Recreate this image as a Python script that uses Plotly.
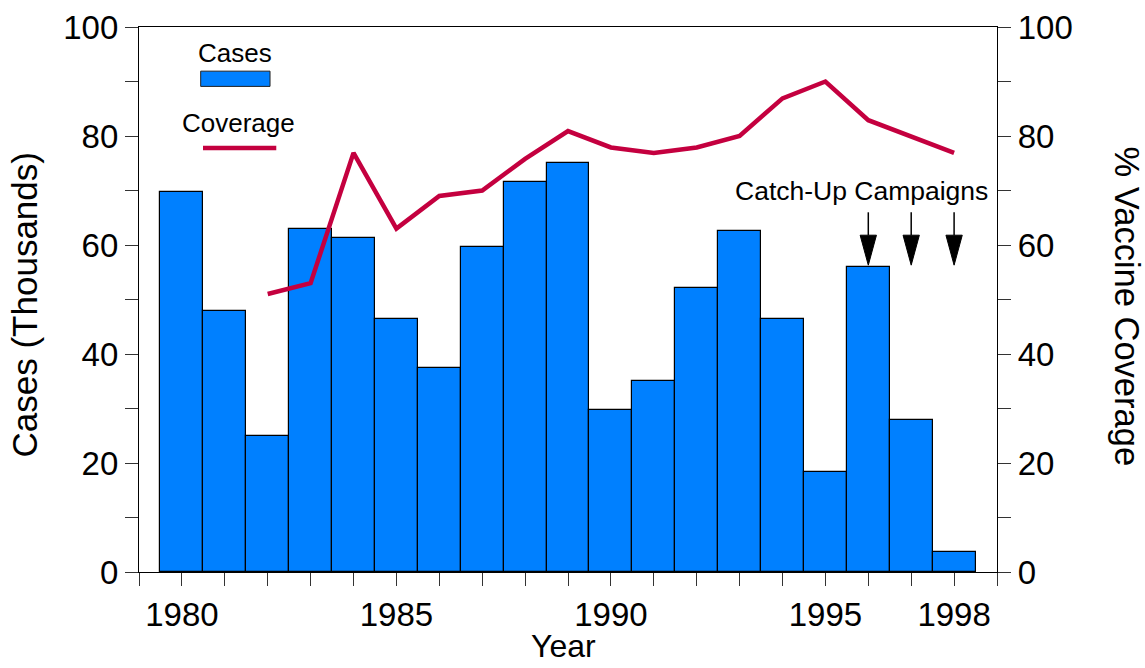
import plotly.graph_objects as go

# ---- data ----
years = list(range(1980, 1999))
cases_thousands = [69.8, 47.8, 24.9, 63.0, 61.3, 46.5, 37.4, 59.7, 71.6, 75.1,
                   29.7, 35.1, 52.2, 62.6, 46.4, 18.3, 56.0, 27.9, 3.7]
coverage_years = list(range(1982, 1999))
coverage_pct = [51.0, 53.0, 76.9, 63.0, 69.0, 70.0, 75.8, 80.9, 77.9, 76.9,
                77.9, 80.0, 86.9, 90.0, 82.9, 80.0, 76.9]
tick_years = list(range(1979, 2000))
labelled_years = [1980, 1985, 1990, 1995, 1998]
campaign_years = [1996, 1997, 1998]
arrow_tip, arrow_base, arrow_tail = 56.3, 61.8, 66.0

FONT = "Liberation Sans, Arial, sans-serif"
BAR_COLOR = "#0080FF"
LINE_COLOR = "#C4003F"

fig = go.Figure()
fig.add_trace(go.Bar(
    x=years, y=cases_thousands, width=1.0,
    marker=dict(color=BAR_COLOR, line=dict(color="black", width=1.2)),
    name="Cases", showlegend=False,
))
fig.add_trace(go.Scatter(
    x=coverage_years, y=coverage_pct, mode="lines", yaxis="y2",
    line=dict(color=LINE_COLOR, width=4.5),
    name="Coverage", showlegend=False,
))

ticktext = [str(y) if y in labelled_years else "" for y in tick_years]

axis_common = dict(
    showline=True, linecolor="black", linewidth=1.3,
    ticks="outside", ticklen=13, tickwidth=1.3, tickcolor="#333",
    tickfont=dict(family=FONT, size=33, color="black"),
    showgrid=False, zeroline=False, automargin=False,
)
minor_ticks = dict(tickvals=[10, 30, 50, 70, 90], ticks="outside", ticklen=13,
                   tickcolor="#333", tickwidth=1.3)

fig.update_layout(
    width=1145, height=668,
    margin=dict(l=139, r=148, t=27, b=96, autoexpand=False),
    paper_bgcolor="white", plot_bgcolor="white",
    bargap=0,
    xaxis=dict(
        range=[1979, 1999], tickvals=tick_years, ticktext=ticktext,
        mirror=True, **axis_common,
    ),
    yaxis=dict(
        range=[0, 100], tickvals=[0, 20, 40, 60, 80, 100], minor=minor_ticks,
        **axis_common,
    ),
    yaxis2=dict(
        range=[0, 100], tickvals=[0, 20, 40, 60, 80, 100], overlaying="y", side="right",
        minor=minor_ticks, **axis_common,
    ),
    showlegend=False,
)

# axis titles
fig.add_annotation(
    text="Year", xref="paper", yref="paper", x=0.4948, y=-0.1358,
    xanchor="center", yanchor="middle", showarrow=False,
    font=dict(family=FONT, size=32, color="black"),
)
fig.add_annotation(
    text="Cases (Thousands)", textangle=-90, xref="paper", yref="paper",
    x=-0.1329, y=0.4908, xanchor="center", yanchor="middle", showarrow=False,
    font=dict(family=FONT, size=35, color="black"),
)
fig.add_annotation(
    text="% Vaccine Coverage", textangle=90, xref="paper", yref="paper",
    x=1.1515, y=0.4872, xanchor="center", yanchor="middle", showarrow=False,
    font=dict(family=FONT, size=34.5, color="black"),
)

# custom legend
fig.add_annotation(text="Cases", xref="paper", yref="paper", x=0.1119, y=0.952,
                   xanchor="center", yanchor="middle",
                   showarrow=False, font=dict(family=FONT, size=26, color="black"))
fig.add_shape(type="rect", xref="paper", yref="paper", x0=0.0719, x1=0.1527, y0=0.891, y1=0.919,
              fillcolor=BAR_COLOR, line=dict(color="#222", width=1))
fig.add_annotation(text="Coverage", xref="paper", yref="paper", x=0.1154, y=0.824,
                   xanchor="center", yanchor="middle",
                   showarrow=False, font=dict(family=FONT, size=26, color="black"))
fig.add_shape(type="line", xref="paper", yref="paper", x0=0.0746, x1=0.160, y0=0.778, y1=0.778,
              line=dict(color=LINE_COLOR, width=4.5))

# catch-up campaigns annotation with arrows
fig.add_annotation(text="Catch-Up Campaigns", x=1995.85, y=70, xref="x", yref="y",
                   xanchor="center", yanchor="middle",
                   showarrow=False, font=dict(family=FONT, size=26.5, color="black"))
half_w = 0.19
for yr in campaign_years:
    fig.add_shape(type="line", xref="x", yref="y", x0=yr, x1=yr, y0=arrow_base, y1=arrow_tail,
                  line=dict(color="black", width=1.5))
    fig.add_shape(type="path", xref="x", yref="y",
                  path=f"M {yr - half_w},{arrow_base} L {yr + half_w},{arrow_base} L {yr},{arrow_tip} Z",
                  fillcolor="black", line=dict(color="black", width=1))

fig.write_html("out.html", config={"displayModeBar": False},
               post_script="document.body.style.margin='0px';document.body.style.overflow='hidden';")
